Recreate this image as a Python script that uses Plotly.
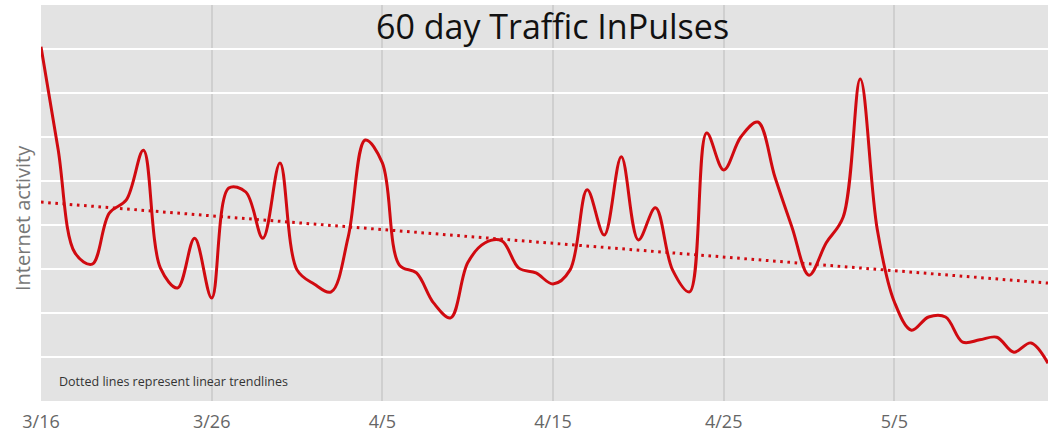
import plotly.graph_objects as go
import pandas as pd

# ---- data ----
start_date = "2020-03-16"
n_days = 60
activity = [8.05, 5.73, 3.36, 3.11, 4.27, 4.57, 5.70, 3.02, 2.57, 3.70,
            2.34, 4.84, 4.75, 3.70, 5.41, 2.98, 2.66, 2.48, 3.73, 5.93,
            5.41, 3.09, 2.91, 2.23, 1.89, 3.14, 3.59, 3.64, 3.02, 2.91,
            2.66, 2.98, 4.80, 3.77, 5.55, 3.66, 4.39, 2.98, 2.48, 6.09,
            5.25, 6.00, 6.34, 5.09, 3.95, 2.86, 3.59, 4.18, 7.32, 3.89,
            2.25, 1.61, 1.91, 1.91, 1.34, 1.39, 1.45, 1.11, 1.32, 0.86]
trend_ends = [4.52, 2.68]
tick_dates = ["2020-03-16", "2020-03-26", "2020-04-05", "2020-04-15", "2020-04-25", "2020-05-05"]
tick_labels = ["3/16", "3/26", "4/5", "4/15", "4/25", "5/5"]

dates = pd.date_range(start_date, periods=n_days, freq="D")
trend_x = [dates[0], dates[-1]]

RED = "#d00a10"
fig = go.Figure()
fig.add_trace(go.Scatter(x=dates, y=activity, mode="lines",
                         line=dict(color=RED, width=3, shape="spline", smoothing=1.0),
                         hoverinfo="skip", showlegend=False))
fig.add_trace(go.Scatter(x=trend_x, y=trend_ends, mode="lines",
                         line=dict(color=RED, width=3, dash="2.6px,4.6px"),
                         hoverinfo="skip", showlegend=False))

fig.update_layout(
    width=1054, height=434,
    margin=dict(l=41, r=6, t=5, b=33),
    paper_bgcolor="white",
    plot_bgcolor="#e3e3e3",
    font=dict(family="Open Sans", color="#666666"),
    title=dict(text="60 day Traffic InPulses", x=0.508, xref="paper", xanchor="center",
               y=1 - 27 / 434, yref="container", yanchor="middle",
               font=dict(size=34, color="#111111", family="Open Sans")),
    xaxis=dict(type="date", range=[dates[0], dates[-1]], automargin=False,
               tickmode="array", tickvals=tick_dates, ticktext=tick_labels,
               showgrid=True, gridcolor="#cfcfcf", gridwidth=1.5,
               zeroline=False, showline=False,
               ticks="outside", ticklen=4, tickcolor="rgba(0,0,0,0)",
               tickfont=dict(size=18, color="#666666")),
    yaxis=dict(range=[0, 9], dtick=1, tick0=0, showticklabels=False, automargin=False,
               showgrid=True, gridcolor="white", gridwidth=2,
               zeroline=False, showline=False, ticks=""),
    annotations=[
        dict(text="Internet activity", textangle=-90, xref="paper", yref="paper",
             x=(22 - 41) / 1007, y=(401 - 218) / 396, xanchor="center", yanchor="middle",
             showarrow=False, font=dict(size=20, color="#777777")),
        dict(text="Dotted lines represent linear trendlines", xref="paper", yref="paper",
             x=(57 - 41) / 1007, y=(401 - 381) / 396, xanchor="left", yanchor="middle",
             showarrow=False, font=dict(size=12.5, color="#333333")),
    ],
)

fig.write_html("out.html", config={"displayModeBar": False},
               post_script="document.body.style.margin='0';")
